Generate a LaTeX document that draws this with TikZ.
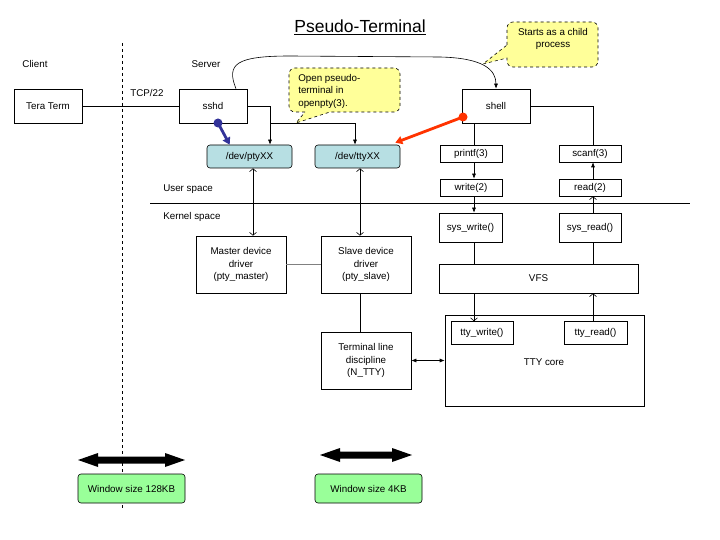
\documentclass[tikz,border=0pt]{standalone}
\usepackage{fontspec}
\setmainfont{Liberation Sans}
\usetikzlibrary{arrows.meta,calc}
\definecolor{devblue}{HTML}{B7DFE3}
\definecolor{wingreen}{HTML}{99FF99}
\definecolor{callyel}{HTML}{FFFF99}
\definecolor{bluearr}{HTML}{333399}
\definecolor{redarr}{HTML}{FF3300}
\newcommand{\fsz}{\fontsize{9.8}{12.5}\selectfont}
\begin{document}
\begin{tikzpicture}[x=1pt,y=-1pt, line width=0.6pt,
  box/.style={draw, fill=white, inner sep=0pt, align=center, font=\fsz},
  dev/.style={box, fill=devblue, rounded corners=3pt},
  winbox/.style={box, fill=wingreen, rounded corners=3pt},
  lbl/.style={inner sep=0pt, font=\fsz},
  arr/.style={-{Latex[length=5pt,width=4pt]}},
  oarr/.style={-{Straight Barb[length=3pt,width=7pt]}},
  boarr/.style={{Straight Barb[length=3pt,width=7pt]}-{Straight Barb[length=3pt,width=7pt]}},
  barr/.style={{Latex[length=5pt,width=4pt]}-{Latex[length=5pt,width=4pt]}},
  callout/.style={draw, dashed, fill=callyel},
  dotarr/.style={line width=2.8pt, -{Triangle[length=7pt,width=8pt]}}
]
\useasboundingbox (0,0) rectangle (720,540);

% title
\node[inner sep=0pt, font=\fontsize{17.5}{20}\selectfont] (title) at (360,27) {\underline{Pseudo-Terminal}};

% dashed separator
\coordinate (sepT) at (122,43);
\coordinate (sepB) at (122,510);
\draw[dashed] (sepT) -- (sepB);

\node[lbl] (client) at (35,64) {Client};
\node[lbl] (server) at (206,64) {Server};
\node[lbl] (tcp) at (147,93) {TCP/22};

% top row
\node[box, minimum width=68, minimum height=34] (tera) at (48,106) {Tera Term};
\node[box, minimum width=68, minimum height=34] (sshd) at (213,106) {sshd};
\node[box, minimum width=68, minimum height=34] (shell) at (496,106) {shell};

\node[dev, minimum width=85, minimum height=23] (pty) at (249.5,156.5) {/dev/ptyXX};
\node[dev, minimum width=85, minimum height=23] (tty) at (357.5,156.5) {/dev/ttyXX};

\node[box, minimum width=62, minimum height=17] (printf) at (471,153.5) {printf(3)};
\node[box, minimum width=62, minimum height=17] (write) at (471,187.5) {write(2)};
\node[box, minimum width=62, minimum height=17] (scanf) at (590,153.5) {scanf(3)};
\node[box, minimum width=62, minimum height=17] (read) at (590,187.5) {read(2)};

% user / kernel
\node[lbl, anchor=west] (uspace) at (163,189) {User space};
\node[lbl, anchor=west] (kspace) at (163,217) {Kernel space};
\coordinate (ulL) at (150,203);
\coordinate (ulR) at (690,203);
\draw (ulL) -- (ulR);

\node[box, minimum width=63, minimum height=29] (syswrite) at (470.5,227.5) {sys\_write()};
\node[box, minimum width=62, minimum height=29] (sysread) at (590,227.5) {sys\_read()};
\node[box, minimum width=199, minimum height=29] (vfs) at (538.5,278.5) {VFS};

\node[box, minimum width=199, minimum height=91] (ttycore) at (544.5,360.5) {};
\node[lbl] (ttycorelbl) at (544,362) {TTY core};
\node[box, minimum width=62, minimum height=23] (ttywrite) at (482,333) {tty\_write()};
\node[box, minimum width=63, minimum height=23] (ttyread) at (595.5,333) {tty\_read()};

\node[box, minimum width=90, minimum height=57] (master) at (241,264.5) {Master device\\driver\\(pty\_master)};
\node[box, minimum width=90, minimum height=57] (slave) at (366,264.5) {Slave device\\driver\\(pty\_slave)};
\node[box, minimum width=90, minimum height=57] (tld) at (366,360.5) {Terminal line\\discipline\\(N\_TTY)};

% x guides
\coordinate (xa) at (253,0);
\coordinate (xb) at (360,0);
\coordinate (xc) at (474,0);
\coordinate (xd) at (593,0);
\coordinate (xe) at (270,0);
\coordinate (xf) at (355,0);
\coordinate (xs) at (236,0);

% connectors
\draw (tera) -- (sshd);
\draw[arr] (sshd.east) -| (pty.north -| xe);
\draw[arr] (sshd.south -| xe) -| (tty.north -| xf);
\draw[arr] (sshd.north -| xs) .. controls (226,64) and (236,56) .. (290,56) -- (440,57) .. controls (484,58) and (496,70) .. (shell.north);

\draw (shell.south -| xc) -- (printf.north -| xc);
\draw[arr] (printf.south -| xc) -- (write.north -| xc);
\draw[arr] (write.south -| xc) -- (syswrite.north -| xc);
\draw (syswrite.south -| xc) -- (vfs.north -| xc);
\draw[oarr] (vfs.south -| xc) -- (ttywrite.north -| xc);

\draw (shell.east) -| (scanf.north -| xd);
\draw[arr] (read.north -| xd) -- (scanf.south -| xd);
\draw[oarr] (sysread.north -| xd) -- (read.south -| xd);
\draw (sysread.south -| xd) -- (vfs.north -| xd);
\draw[oarr] (ttyread.north -| xd) -- (vfs.south -| xd);

\draw[boarr] (pty.south -| xa) -- (master.north -| xa);
\draw[boarr] (tty.south -| xb) -- (slave.north -| xb);
\draw[gray, line width=1pt] (master.east) -- (slave.west);
\draw (slave.south -| xb) -- (tld.north -| xb);
\draw[barr] (tld.east) -- (ttycore.west |- tld.east);

% blue and red pointers
\coordinate (bdot) at (218,123);
\coordinate (rdot) at (463,117);
\draw[bluearr, dotarr] (bdot) -- ($(pty.north west)+(23,0)$);
\fill[bluearr] (bdot) circle (4.5);
\draw[redarr, dotarr] (rdot) -- ($(tty.north east)+(-5,-2)$);
\fill[redarr] (rdot) circle (4.5);

% callouts
\draw[callout] (305,112) [rounded corners=6] -- (289,112) -- (289,68) -- (400,68) -- (400,112) [sharp corners] -- (330,112) -- (296,123) -- cycle;
\node[lbl, anchor=west, align=left] (call1) at (298,91) {Open pseudo-\\terminal in\\openpty(3).};
\draw[callout] (507,45) [rounded corners=6] -- (507,22) -- (598,22) -- (598,67) -- (507,67) [sharp corners] -- (507,58) -- (483,64) -- cycle;
\node[lbl, align=center] (call2) at (553,39) {Starts as a child\\process};

% window size
\fill (78,460) -- (98,453) -- (98,456.5) -- (165,456.5) -- (165,453) -- (185,460) -- (165,467) -- (165,463.5) -- (98,463.5) -- (98,467) -- cycle;
\fill (320,455) -- (340,448) -- (340,451.5) -- (392,451.5) -- (392,448) -- (412,455) -- (392,462) -- (392,458.5) -- (340,458.5) -- (340,462) -- cycle;
\node[winbox, minimum width=107, minimum height=29] (win1) at (131.5,488.5) {Window size 128KB};
\node[winbox, minimum width=107, minimum height=29] (win2) at (368.5,488.5) {Window size 4KB};
\end{tikzpicture}
\end{document}
